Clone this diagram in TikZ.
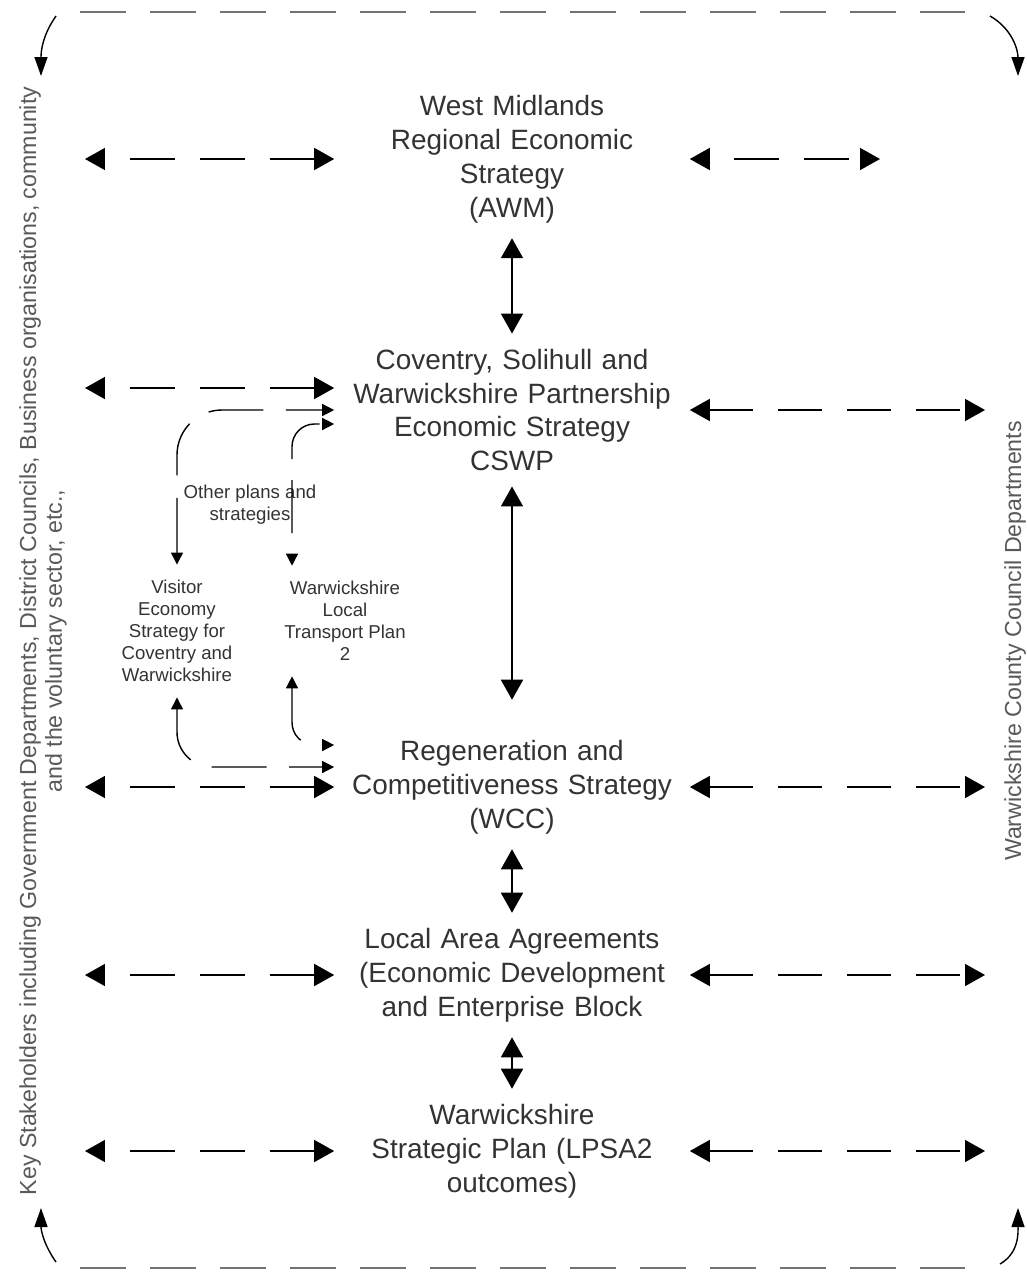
\documentclass[tikz,border=0pt]{standalone}
\usepackage{fontspec}
\setmainfont{Liberation Sans}
\usetikzlibrary{positioning,arrows.meta}

\begin{document}
\begin{tikzpicture}[
  x=0.02cm, y=-0.02cm,
  strategy/.style={text width=6.9cm,inner xsep=0.1cm,inner ysep=0.3cm,align=center,
    text=black!80,font=\fontsize{15.9}{19.3}\selectfont},
  smallbox/.style={align=center,inner ysep=0.3cm,text=black!80,font=\fontsize{10.6}{12.6}\selectfont},
  side/.style={rotate=90,align=center,text=black!65,font=\fontsize{13.2}{14.7}\selectfont},
  bigarrow/.style={{Triangle[length=0.4cm,width=0.44cm]}-{Triangle[length=0.4cm,width=0.44cm]},line width=0.9pt},
  leftdash/.style={bigarrow,dash pattern=on 0.9cm off 0.5cm,dash phase=0.9cm},
  rightdash/.style={bigarrow,dash pattern=on 0.88cm off 0.5cm},
  smalldbl/.style={{Triangle[length=0.24cm,width=0.24cm]}-{Triangle[length=0.24cm,width=0.24cm]},
    line width=0.8pt,dash pattern=on 1.1cm off 0.45cm},
  loopline/.style={black!55,line width=1.5pt,dash pattern=on 0.92cm off 0.48cm},
  cornerarrow/.style={-{Triangle[length=0.38cm,width=0.26cm]},line width=0.8pt},
]
\useasboundingbox (0,0) rectangle (1027,1274);

% main strategies
\node[strategy] (awm) at (512,159) {West Midlands\\Regional Economic\\Strategy\\(AWM)};
\node[strategy] (cswp) at (512,410) {Coventry, Solihull and\\Warwickshire Partnership\\Economic Strategy\\CSWP};
\node[strategy] (wcc) at (512,787) {Regeneration and\\Competitiveness Strategy\\(WCC)};
\node[strategy] (laa) at (512,975) {Local Area Agreements\\(Economic Development\\and Enterprise Block};
\node[strategy] (wsp) at (512,1151) {Warwickshire\\Strategic Plan (LPSA2\\outcomes)};

% other plans
\node[smallbox] (others) at (250,505) {Other plans and\\strategies};
\node[smallbox] (vis) at (177,631) {Visitor\\Economy\\Strategy for\\Coventry and\\Warwickshire};
\node[smallbox] (ltp) at (345,621) {Warwickshire\\Local\\Transport Plan\\2};

% stakeholders
\node[side] (ks) at (43,641) {Key Stakeholders including Government Departments, District Councils, Business organisations, community\\and the voluntary sector, etc.,};
\node[side] (wcd) at (1015,641) {Warwickshire County Council Departments};

\coordinate (lx) at (85,0);
\coordinate (rx) at (985,0);
\coordinate (rxs) at (880,0);
\coordinate (cswpa) at ([yshift=0.44cm]cswp.west);
\coordinate (cswpb) at (cswp.west);
\coordinate (cswpc) at ([yshift=-0.28cm]cswp.west);
\coordinate (wcca) at ([yshift=0.4cm]wcc.west);
\coordinate (wccb) at ([yshift=0.84cm]wcc.west);
\coordinate (ltpn) at ([xshift=-1.06cm]ltp.north);
\coordinate (ltps) at ([xshift=-1.06cm]ltp.south);

% links to stakeholders
\draw[leftdash] (lx |- awm.west) -- (awm.west);
\draw[leftdash] (awm.east) -- (rxs |- awm.east);
\draw[leftdash] (lx |- cswpa) -- (cswpa);
\draw[rightdash] (cswp.east) -- (rx |- cswp.east);
\draw[leftdash] (lx |- wcc.west) -- (wcc.west);
\draw[rightdash] (wcc.east) -- (rx |- wcc.east);
\draw[leftdash] (lx |- laa.west) -- (laa.west);
\draw[rightdash] (laa.east) -- (rx |- laa.east);
\draw[leftdash] (lx |- wsp.west) -- (wsp.west);
\draw[rightdash] (wsp.east) -- (rx |- wsp.east);

% main chain
\draw[bigarrow] (awm.south) -- (cswp.north);
\draw[bigarrow] (cswp.south) -- ([yshift=0.5cm]wcc.north);
\draw[bigarrow] (wcc.south) -- (laa.north);
\draw[bigarrow] (laa.south) -- (wsp.north);

% other plans links
\draw[smalldbl,rounded corners=0.9cm] (vis.north) |- (cswpb);
\draw[smalldbl,rounded corners=0.45cm,dash pattern=on 1.06cm off 0.42cm,dash phase=1.06cm] (ltpn) |- (cswpc);
\draw[smalldbl,rounded corners=0.7cm] (vis.south) |- (wcca);
\draw[smalldbl,rounded corners=0.45cm] (ltps) |- (wccb);

% feedback loop
\coordinate (tl) at (80,12);
\coordinate (tr) at (965,12);
\coordinate (bl) at (80,1268);
\coordinate (br) at (965,1268);
\coordinate (tla) at (56,16);
\coordinate (tlb) at (41,76);
\coordinate (tra) at (990,16);
\coordinate (trb) at (1018,76);
\coordinate (bla) at (56,1262);
\coordinate (blb) at (41,1208);
\coordinate (bra) at (1000,1264);
\coordinate (brb) at (1018,1208);
\draw[loopline] (tl) -- (tr);
\draw[loopline] (bl) -- (br);
\draw[cornerarrow] (tla) to[out=235,in=90] (tlb);
\draw[cornerarrow] (tra) to[out=-30,in=90] (trb);
\draw[cornerarrow] (bla) to[out=125,in=-90] (blb);
\draw[cornerarrow] (bra) to[out=30,in=-90] (brb);
\end{tikzpicture}
\end{document}
